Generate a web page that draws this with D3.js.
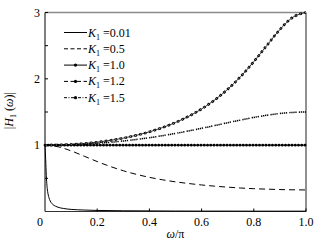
<!DOCTYPE html>
<html>
<head>
<meta charset="utf-8">
<script src="https://cdn.jsdelivr.net/npm/d3@7"></script>
<style>
  body { margin: 0; background: #fff; }
  text { font-family: "Liberation Serif", "Times New Roman", serif; font-size: 12px; fill: #000; }
</style>
</head>
<body>
<div id="chart"></div>
<script>
// frequency grid (omega / pi) shared by the K1 = 0.5, 1.0, 1.2, 1.5 curves
const omega = [0, 0.05, 0.1, 0.15, 0.2, 0.25, 0.3, 0.35, 0.4, 0.45, 0.5,
               0.55, 0.6, 0.65, 0.7, 0.75, 0.8, 0.85, 0.9, 0.95, 1.0];
const k05 = [1, 0.976, 0.914, 0.834, 0.753, 0.679, 0.614, 0.56, 0.515, 0.478, 0.447,
             0.422, 0.4, 0.382, 0.367, 0.354, 0.344, 0.337, 0.331, 0.327, 0.325];
const k10 = [1, 1, 1, 1, 1, 1, 1, 1, 1, 1, 1, 1, 1, 1, 1, 1, 1, 1, 1, 1, 1];
const k12 = [1, 1.002, 1.007, 1.015, 1.028, 1.043, 1.063, 1.086, 1.112, 1.143, 1.177,
             1.214, 1.254, 1.295, 1.338, 1.379, 1.418, 1.451, 1.478, 1.494, 1.5];
const k15 = [1, 1.003, 1.011, 1.025, 1.045, 1.072, 1.106, 1.149, 1.201, 1.265, 1.342,
             1.434, 1.546, 1.681, 1.843, 2.036, 2.259, 2.503, 2.743, 2.929, 3];

// K1 = 0.01 drops very fast, so it has its own finer grid near 0
const omegaLow = [0, 0.0025, 0.005, 0.0075, 0.01, 0.015, 0.02, 0.03, 0.04, 0.05, 0.07,
                  0.1, 0.15, 0.2, 0.3, 0.4, 0.5, 0.6, 0.7, 0.8, 0.9, 1.0];
const k001 = [1, 0.79, 0.54, 0.39, 0.305, 0.21, 0.158, 0.106, 0.08, 0.064, 0.046,
              0.032, 0.022, 0.016, 0.011, 0.009, 0.007, 0.006, 0.006, 0.005, 0.005, 0.005];

const legendLabels = ["0.01", "0.5", "1.0", "1.2", "1.5"];
const xTicks = [0.2, 0.4, 0.6, 0.8, 1.0];
const yTicks = [1, 2, 3];
const yMinor = [0.5, 1.5, 2.5];

const width = 321, height = 243;
const margin = {left: 45, right: 15, top: 12.5, bottom: 31.5};

const svg = d3.select("#chart").append("svg")
    .attr("width", width)
    .attr("height", height);

const x = d3.scaleLinear().domain([0, 1]).range([margin.left, width - margin.right]);
const y = d3.scaleLinear().domain([0, 3]).range([height - margin.bottom, margin.top]);

const line = d3.line()
    .x(d => x(d[0]))
    .y(d => y(d[1]))
    .curve(d3.curveMonotoneX);

const zip = (xs, ys) => xs.map((v, i) => [v, ys[i]]);

// frame
svg.append("line").attr("x1", x(0)).attr("x2", x(1)).attr("y1", y(3)).attr("y2", y(3))
    .attr("stroke", "#8a8a8a").attr("stroke-width", 1.6);
svg.append("line").attr("x1", x(1)).attr("x2", x(1)).attr("y1", y(3)).attr("y2", y(0))
    .attr("stroke", "#222").attr("stroke-width", 1);
svg.append("line").attr("x1", x(0)).attr("x2", x(0)).attr("y1", y(3)).attr("y2", y(0))
    .attr("stroke", "#000").attr("stroke-width", 1);
svg.append("line").attr("x1", x(0)).attr("x2", x(1)).attr("y1", y(0)).attr("y2", y(0))
    .attr("stroke", "#333").attr("stroke-width", 1.2);

// ticks (pointing inward)
svg.selectAll(".xt").data(xTicks).enter().append("line")
    .attr("x1", d => x(d)).attr("x2", d => x(d))
    .attr("y1", y(0)).attr("y2", y(0) - 3)
    .attr("stroke", "#000");
svg.selectAll(".yt").data(yTicks.concat(yMinor)).enter().append("line")
    .attr("x1", x(0)).attr("x2", x(0) + 3)
    .attr("y1", d => y(d)).attr("y2", d => y(d))
    .attr("stroke", "#000");

// tick labels
svg.selectAll(".xl").data(xTicks).enter().append("text")
    .attr("x", d => x(d)).attr("y", y(0) + 14)
    .attr("text-anchor", "middle")
    .text(d => d3.format(".1f")(d));
svg.append("text").attr("x", x(0) - 5).attr("y", y(0) + 14)
    .attr("text-anchor", "middle").text("0");
svg.selectAll(".yl").data(yTicks).enter().append("text")
    .attr("x", x(0) - 5).attr("y", d => y(d) + 4)
    .attr("text-anchor", "end")
    .text(d => d);

// axis titles
const xt = svg.append("text").attr("x", x(0.5)).attr("y", height - 5).attr("text-anchor", "middle");
xt.append("tspan").attr("font-style", "italic").text("ω");
xt.append("tspan").text("/π");

const yt = svg.append("text")
    .attr("transform", `translate(13,${y(1.52)}) rotate(-90)`)
    .attr("text-anchor", "middle");
yt.append("tspan").text("|");
yt.append("tspan").attr("font-style", "italic").text("H");
yt.append("tspan").attr("font-size", "8px").attr("dy", 3).text("1");
yt.append("tspan").attr("dy", -3).text(" (");
yt.append("tspan").attr("font-style", "italic").text("ω");
yt.append("tspan").text(")|");

// curves
const plot = svg.append("g");

plot.append("path").datum(zip(omegaLow, k001)).attr("d", line)
    .attr("fill", "none").attr("stroke", "#000").attr("stroke-width", 1);

plot.append("path").datum(zip(omega, k05)).attr("d", line)
    .attr("fill", "none").attr("stroke", "#000").attr("stroke-width", 1)
    .attr("stroke-dasharray", "6,4");

// K1 = 1.0 : solid line with dense dots
plot.append("path").datum(zip(omega, k10)).attr("d", line)
    .attr("fill", "none").attr("stroke", "#000").attr("stroke-width", 1);
plot.append("path").datum(zip(omega, k10)).attr("d", line)
    .attr("fill", "none").attr("stroke", "#000").attr("stroke-width", 2.8)
    .attr("stroke-linecap", "round").attr("stroke-dasharray", "0,3.25");

// K1 = 1.2 : dashed line carrying small dots
plot.append("path").datum(zip(omega, k12)).attr("d", line)
    .attr("fill", "none").attr("stroke", "#000").attr("stroke-width", 1.5)
    .attr("stroke-dasharray", "1.3,0.7,1.3,0.7,1.3,0.7,1.3,2.2");

// K1 = 1.5 : thin line with small open markers
plot.append("path").datum(zip(omega, k15)).attr("d", line)
    .attr("fill", "none").attr("stroke", "#000").attr("stroke-width", 0.8);
plot.append("path").datum(zip(omega, k15)).attr("d", line)
    .attr("fill", "none").attr("stroke", "#000").attr("stroke-width", 2.5)
    .attr("stroke-dasharray", "2.5,2.5");
plot.append("path").datum(zip(omega, k15)).attr("d", line)
    .attr("fill", "none").attr("stroke", "#fff").attr("stroke-width", 0.8)
    .attr("stroke-dasharray", "0,0.85,0.8,3.35");

// legend
const legendDash = [null, "4,2.5", null, "4,2.5", "3,1.5,1,1.5"];
const legendDot = [false, false, true, true, true];
const lg = svg.append("g");
legendLabels.forEach((lab, i) => {
    const ly = 32.5 + i * 16.3;
    lg.append("line").attr("x1", 64).attr("x2", 87).attr("y1", ly).attr("y2", ly)
        .attr("stroke", "#000").attr("stroke-width", 1)
        .attr("stroke-dasharray", legendDash[i]);
    if (legendDot[i]) {
        lg.append("circle").attr("cx", 75.5).attr("cy", ly).attr("r", 1.6).attr("fill", "#000");
    }
    const t = lg.append("text").attr("x", 88).attr("y", ly + 4);
    t.append("tspan").attr("font-style", "italic").text("K");
    t.append("tspan").attr("font-size", "8px").attr("dy", 3).text("1");
    t.append("tspan").attr("dy", -3).text(" =" + lab);
});
</script>
</body>
</html>
